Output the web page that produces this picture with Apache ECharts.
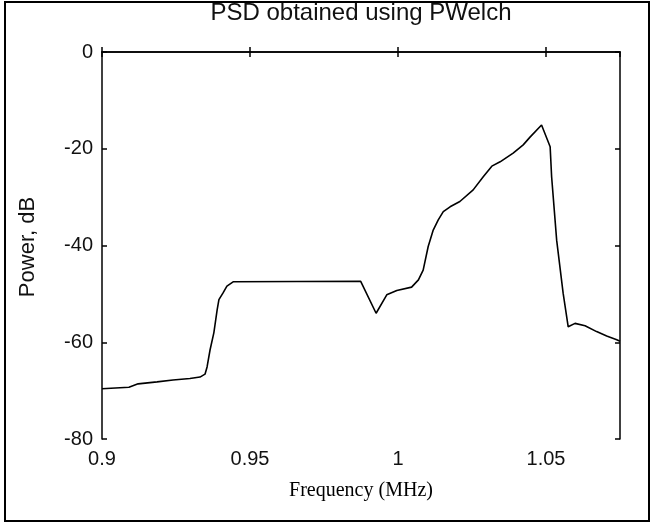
<!DOCTYPE html>
<html>
<head>
<meta charset="utf-8">
<script src="https://cdn.jsdelivr.net/npm/echarts@6/dist/echarts.min.js"></script>
<style>html,body{margin:0;padding:0;background:#fff;}#c{width:651px;height:523px;}</style>
</head>
<body>
<div id="c"></div>
<script>
var titleText = 'PSD obtained using PWelch';
var xLabel = 'Frequency (MHz)';
var yLabel = 'Power, dB';
var freq = [0.9000, 0.9091, 0.9122, 0.9186, 0.9240, 0.9297, 0.9331, 0.9348, 0.9355, 0.9365, 0.9378, 0.9389, 0.9395, 0.9409, 0.9422, 0.9443,
            0.9874, 0.9926, 0.9962, 0.9996, 1.0046, 1.0069, 1.0085, 1.0102, 1.0119, 1.0136, 1.0153, 1.0176, 1.0209, 1.0254, 1.0288,
            1.0317, 1.0345, 1.0389, 1.0423, 1.0446, 1.0485, 1.0514, 1.0519, 1.0536, 1.0558, 1.0575, 1.0598, 1.0632, 1.0671, 1.0705, 1.0739, 1.0750];
var power = [-69.6, -69.3, -68.6, -68.2, -67.8, -67.5, -67.2, -66.6, -65.1, -61.6, -58.0, -53.3, -51.2, -49.8, -48.4, -47.5,
             -47.4, -54.0, -50.2, -49.3, -48.6, -47.1, -45.1, -40.2, -36.8, -34.7, -33.0, -32.0, -30.9, -28.5, -25.8,
             -23.6, -22.7, -20.9, -19.2, -17.6, -15.1, -19.6, -25.8, -38.9, -49.9, -56.8, -56.1, -56.6, -57.8, -58.7, -59.5, -59.8];
var xMin = 0.9, xMax = 1.075, xStep = 0.05;
var yMin = -80, yMax = 0, yStep = 20;

var pts = freq.map(function (f, i) { return [f, power[i]]; });
var chart = echarts.init(document.getElementById('c'), null, {renderer: 'canvas'});
var axisLine = {show: true, lineStyle: {color: '#000', width: 1.5}};
var tick = {show: true, inside: true, length: 5, lineStyle: {color: '#000', width: 1.5}};
var lblFont = {color: '#111', fontFamily: 'Liberation Sans, Arial, sans-serif', fontSize: 20};
function fmt(v) { return String(parseFloat(v.toFixed(3))); }
chart.setOption({
  animation: false,
  backgroundColor: '#fff',
  grid: {left: 102, top: 52, width: 518, height: 387, containLabel: false},
  xAxis: [
    {type: 'value', min: xMin, max: xMax, interval: xStep, position: 'bottom',
     axisLine: axisLine, axisTick: tick, splitLine: {show: false},
     axisLabel: Object.assign({margin: 10, formatter: fmt, showMaxLabel: false}, lblFont)},
    {type: 'value', min: xMin, max: xMax, interval: xStep, position: 'top',
     axisLine: axisLine, axisTick: tick, splitLine: {show: false}, axisLabel: {show: false}}
  ],
  yAxis: [
    {type: 'value', min: yMin, max: yMax, interval: yStep, position: 'left',
     axisLine: axisLine, axisTick: tick, splitLine: {show: false},
     axisLabel: Object.assign({margin: 9, formatter: fmt}, lblFont)},
    {type: 'value', min: yMin, max: yMax, interval: yStep, position: 'right',
     axisLine: axisLine, axisTick: tick, splitLine: {show: false}, axisLabel: {show: false}}
  ],
  series: [{
    type: 'line', data: pts, showSymbol: false, symbol: 'none',
    lineStyle: {color: '#000', width: 1.6}, xAxisIndex: 0, yAxisIndex: 0
  }],
  graphic: [
    {type: 'rect', shape: {x: 5, y: 2, width: 644, height: 519}, style: {fill: 'none', stroke: '#000', lineWidth: 2}, silent: true},
    {type: 'text', x: 361, y: 13, style: {text: titleText, fill: '#111', font: '24px "Liberation Sans", Arial, sans-serif', textAlign: 'center', textVerticalAlign: 'middle'}},
    {type: 'text', x: 361, y: 491, style: {text: xLabel, fill: '#000', font: '20px "Liberation Serif", "Times New Roman", serif', textAlign: 'center', textVerticalAlign: 'middle'}},
    {type: 'text', x: 28, y: 247, rotation: Math.PI / 2, style: {text: yLabel, fill: '#111', font: '22px "Liberation Sans", Arial, sans-serif', textAlign: 'center', textVerticalAlign: 'middle'}}
  ]
});
</script>
</body>
</html>
